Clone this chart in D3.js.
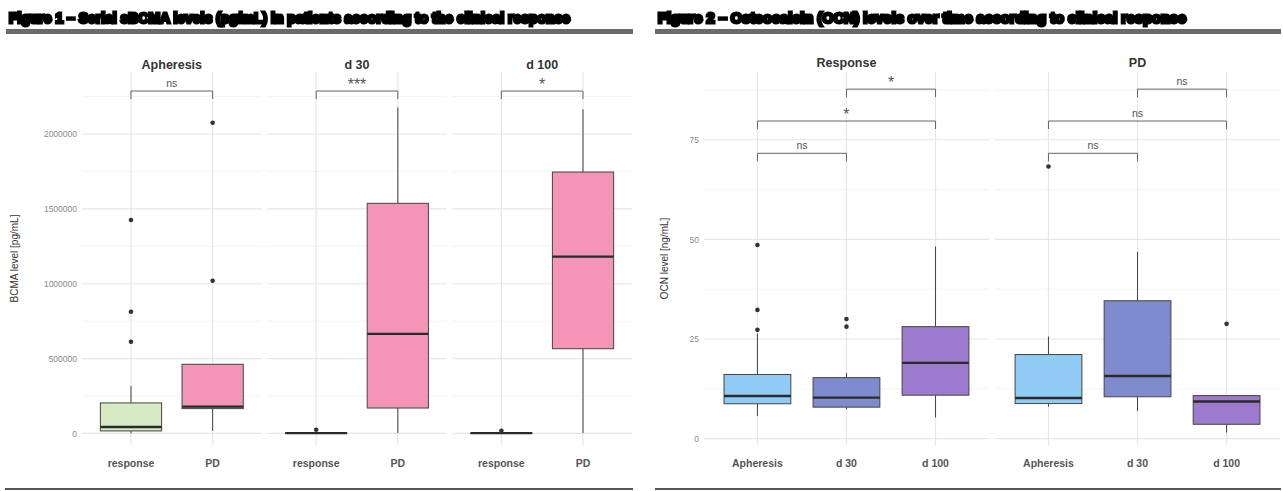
<!DOCTYPE html>
<html><head><meta charset="utf-8">
<script src="https://cdn.jsdelivr.net/npm/d3@7"></script>
<style>
body{margin:0;background:#fff;}
svg{display:block;font-family:"Liberation Sans",Arial,sans-serif;}
</style></head>
<body><svg id="c" width="1283" height="491"></svg>
<script>
// ---------- DATA ----------
const titleLeft = "Figure 1 – Serial sBCMA levels (pg/mL) in patients according to the clinical response";
const titleRight = "Figure 2 – Osteocalcin (OCN) levels over time according to clinical response";

// Left chart: BCMA
const bcmaFacets = ["Apheresis", "d 30", "d 100"];
const bcmaGroups = ["response", "PD"];
// per facet, per group: [whiskerLow, q1, median, q3, whiskerHigh]
const bcmaResponse = [
  [0, 17000, 43000, 204000, 317000],
  [0, 0, 2000, 5000, 8000],
  [0, 0, 2000, 5000, 8000]
];
const bcmaPD = [
  [17000, 166000, 179000, 462000, 462000],
  [3000, 170000, 665000, 1537000, 2178000],
  [3000, 566000, 1181000, 1746000, 2165000]
];
const bcmaResponseOut = [[613000, 813000, 1426000], [25000], [18000]];
const bcmaPDOut = [[1020000, 2075000], [], []];
const bcmaSig = ["ns", "***", "*"];
const bcmaTicks = [0, 500000, 1000000, 1500000, 2000000];

// Right chart: OCN
const ocnFacets = ["Response", "PD"];
const ocnGroups = ["Apheresis", "d 30", "d 100"];
const ocnResponse = [
  [5.7, 8.75, 10.7, 16.1, 26.4],
  [7.3, 7.9, 10.3, 15.3, 16.5],
  [5.3, 10.9, 19.0, 28.1, 48.2]
];
const ocnPD = [
  [8.0, 8.8, 10.2, 21.1, 25.6],
  [6.9, 10.5, 15.7, 34.6, 46.9],
  [1.5, 3.6, 9.3, 10.8, 10.8]
];
const ocnResponseOut = [[27.3, 32.3, 48.6], [28.1, 30.0], []];
const ocnPDOut = [[68.3], [], [28.8]];
// comparisons: [from, to, label] per facet
const ocnResponseSig = [["d 30", "d 100", "*"], ["Apheresis", "d 100", "*"], ["Apheresis", "d 30", "ns"]];
const ocnPDSig = [["d 30", "d 100", "ns"], ["Apheresis", "d 100", "ns"], ["Apheresis", "d 30", "ns"]];
const ocnTicks = [0, 25, 50, 75];

// ---------- DRAW ----------
const svg = d3.select("#c");
const defs = svg.append("defs");
defs.append("filter").attr("id","blur").append("feGaussianBlur").attr("stdDeviation",0.7);

function header(x0, x1, text) {
  svg.append("text").attr("x", x0 + 1).attr("y", 23)
    .attr("font-size", 14).attr("font-weight", "bold")
    .attr("fill", "#000").attr("stroke", "#000").attr("stroke-width", 3)
    .attr("textLength", x1 - x0).attr("lengthAdjust", "spacingAndGlyphs")
    .attr("filter", "url(#blur)").text(text);
}
header(8, 569, titleLeft);
header(657, 1185, titleRight);
svg.append("rect").attr("x", 6).attr("y", 29).attr("width", 627).attr("height", 5).attr("fill", "#6a6a6a");
svg.append("rect").attr("x", 655).attr("y", 29).attr("width", 626).attr("height", 5).attr("fill", "#6a6a6a");
svg.append("rect").attr("x", 5).attr("y", 488).attr("width", 628).attr("height", 2).attr("fill", "#555");
svg.append("rect").attr("x", 655).attr("y", 488).attr("width", 626).attr("height", 2).attr("fill", "#555");

const pTop = 72, pBottom = 445;

function drawChart(opt) {
  const g = svg.append("g");
  const fx = d3.scaleBand().domain(opt.facets).range(opt.xr).paddingInner(opt.gap).paddingOuter(0);
  const y = d3.scaleLinear().domain(opt.ydom).range([pBottom, pTop]);
  const minor = [];
  for (let i = 0; i < opt.ticks.length; i++) {
    const mid = opt.ticks[i] + (opt.ticks[1] - opt.ticks[0]) / 2;
    if (mid < opt.ydom[1]) minor.push(mid);
  }
  minor.push(opt.ticks[0] - (opt.ticks[1] - opt.ticks[0]) / 2);

  // y axis
  const ya = g.append("g").attr("transform", `translate(${opt.xr[0]},0)`)
    .call(d3.axisLeft(y).tickValues(opt.ticks).tickSize(0).tickPadding(5).tickFormat(d3.format("d")));
  ya.select(".domain").remove();
  ya.selectAll("text").attr("font-size", 8.5).attr("fill", "#8a8a8a").attr("font-family", "Liberation Sans, Arial");
  g.append("text").attr("transform", `translate(${opt.ylabX},${(pTop + pBottom) / 2}) rotate(-90)`)
    .attr("text-anchor", "middle").attr("font-size", 10).attr("fill", "#333").text(opt.ylab);

  opt.facets.forEach((f, fi) => {
    const x0 = fx(f), bw = fx.bandwidth();
    const px = d3.scalePoint().domain(opt.groups).range([x0, x0 + bw]).padding(0.6);
    const boxW = px.step() * 0.75;
    const pg = g.append("g");
    // grid
    minor.forEach(v => { if (y(v) >= pTop && y(v) <= pBottom)
      pg.append("line").attr("x1", x0).attr("x2", x0 + bw).attr("y1", y(v)).attr("y2", y(v)).attr("stroke", "#f1f1f1").attr("stroke-width", 0.8); });
    opt.ticks.forEach(v => pg.append("line").attr("x1", x0).attr("x2", x0 + bw).attr("y1", y(v)).attr("y2", y(v)).attr("stroke", "#e6e6e6").attr("stroke-width", 1.2));
    opt.groups.forEach(gr => pg.append("line").attr("x1", px(gr)).attr("x2", px(gr)).attr("y1", pTop).attr("y2", pBottom).attr("stroke", "#e6e6e6").attr("stroke-width", 1.2));
    // facet title
    pg.append("text").attr("x", x0 + bw / 2).attr("y", opt.stripY).attr("text-anchor", "middle")
      .attr("font-size", 12.5).attr("font-weight", "bold").attr("fill", "#333").text(f);
    // x labels
    opt.groups.forEach(gr => pg.append("text").attr("x", px(gr)).attr("y", 467).attr("text-anchor", "middle")
      .attr("font-size", 10.5).attr("font-weight", "bold").attr("fill", "#555").text(gr));
    // boxes
    opt.groups.forEach((gr, gi) => {
      const s = opt.stats(fi, gi), cx = px(gr);
      pg.append("line").attr("x1", cx).attr("x2", cx).attr("y1", y(s[3])).attr("y2", y(s[4])).attr("stroke", "#444").attr("stroke-width", 1);
      pg.append("line").attr("x1", cx).attr("x2", cx).attr("y1", y(s[1])).attr("y2", y(s[0])).attr("stroke", "#444").attr("stroke-width", 1);
      pg.append("rect").attr("x", cx - boxW / 2).attr("width", boxW)
        .attr("y", y(s[3])).attr("height", Math.max(0.5, y(s[1]) - y(s[3])))
        .attr("fill", opt.color(gi)).attr("stroke", "#444").attr("stroke-width", 1);
      pg.append("line").attr("x1", cx - boxW / 2).attr("x2", cx + boxW / 2).attr("y1", y(s[2])).attr("y2", y(s[2])).attr("stroke", "#2a2a2a").attr("stroke-width", 2.4);
      opt.outs(fi, gi).forEach(o => pg.append("circle").attr("cx", cx).attr("cy", y(o)).attr("r", 2.3).attr("fill", "#333"));
    });
    // brackets
    opt.sig(fi).forEach(b => {
      const by = y(b.v), xa = px(b.a), xb = px(b.b);
      pg.append("path").attr("d", `M${xa},${by + 8}V${by}H${xb}V${by + 8}`).attr("fill", "none").attr("stroke", "#666").attr("stroke-width", 1);
      const star = b.t !== "ns";
      pg.append("text").attr("x", (xa + xb) / 2).attr("y", star ? by - 1 : by - 4).attr("text-anchor", "middle")
        .attr("font-size", star ? 16 : 10.5).attr("fill", "#555").text(b.t);
    });
  });
}

const bcmaColors = ["#d8eac3", "#f494b6"];
drawChart({
  facets: bcmaFacets, groups: bcmaGroups, xr: [82, 632], gap: 0.03,
  ydom: [-77000, 2414000], ticks: bcmaTicks, ylab: "BCMA level [pg/mL]", ylabX: 18, stripY: 69,
  stats: (f, g) => (g === 0 ? bcmaResponse : bcmaPD)[f],
  outs: (f, g) => (g === 0 ? bcmaResponseOut : bcmaPDOut)[f],
  color: g => bcmaColors[g],
  sig: f => [{ a: "response", b: "PD", t: bcmaSig[f], v: 2287000 }]
});

const ocnColors = ["#90cbf6", "#7e8ccf", "#9c7acd"];
const ocnLevels = [87.7, 79.7, 71.6];
drawChart({
  facets: ocnFacets, groups: ocnGroups, xr: [704, 1280], gap: 0.021,
  ydom: [-1.6, 92], ticks: ocnTicks, ylab: "OCN level [ng/mL]", ylabX: 668, stripY: 67,
  stats: (f, g) => (f === 0 ? ocnResponse : ocnPD)[g],
  outs: (f, g) => (f === 0 ? ocnResponseOut : ocnPDOut)[g],
  color: g => ocnColors[g],
  sig: f => (f === 0 ? ocnResponseSig : ocnPDSig).map((c, i) => ({ a: c[0], b: c[1], t: c[2], v: ocnLevels[i] }))
});
</script></body></html>
